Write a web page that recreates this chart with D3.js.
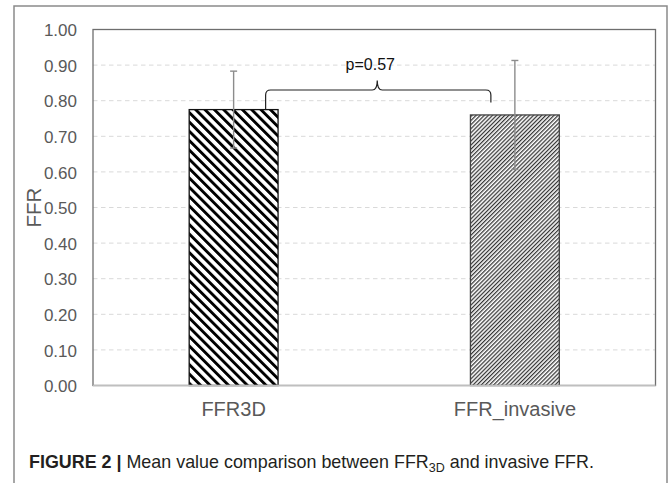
<!DOCTYPE html>
<html lang="en">
<head>
    <meta charset="UTF-8">
    <title>FFR bars</title>
    <script src="https://cdn.jsdelivr.net/npm/d3@7"></script>
    <style>
        body { margin: 0; background: #fff; }
        text { font-family: Arial, "Liberation Sans", Helvetica, sans-serif; }
    </style>
</head>
<body>

<svg width="669" height="483"></svg>

<script>

    // data
    var categories = ["FFR3D", "FFR_invasive"];
    var means = [0.775, 0.76];
    var sds = [0.108, 0.153];
    var yTicks = [0, 0.1, 0.2, 0.3, 0.4, 0.5, 0.6, 0.7, 0.8, 0.9, 1.0];
    var pLabel = "p=0.57";
    // bracket levels (FFR units): left leg end, bar, tip, right leg end
    var bracketLevels = [0.775, 0.83, 0.857, 0.795];

    var svg = d3.select("svg");
    var plotLeft = 93, plotTop = 29.5, plotRight = 655.5, plotBottom = 385.5;

    // outer frame of the figure
    svg.append("rect")
        .attr("x", 14).attr("y", 6)
        .attr("width", 653).attr("height", 500)
        .attr("fill", "none")
        .attr("stroke", "#8a8a8a")
        .attr("stroke-width", 1.5);

    var x = d3.scaleBand()
        .domain(categories)
        .range([plotLeft, plotRight])
        .paddingInner(0.684)
        .paddingOuter(0.342);

    var y = d3.scaleLinear()
        .domain([0, 1])
        .range([plotBottom, plotTop]);

    // patterns
    var defs = svg.append("defs");
    var p1 = defs.append("pattern")
        .attr("id", "hatchWide")
        .attr("patternUnits", "userSpaceOnUse")
        .attr("width", 6.6).attr("height", 6.6)
        .attr("patternTransform", "rotate(-45)");
    p1.append("rect").attr("width", 6.6).attr("height", 6.6).attr("fill", "#fff");
    p1.append("rect").attr("width", 2.9).attr("height", 6.6).attr("fill", "#000");

    var p2 = defs.append("pattern")
        .attr("id", "hatchFine")
        .attr("patternUnits", "userSpaceOnUse")
        .attr("width", 2.9).attr("height", 2.9)
        .attr("patternTransform", "rotate(45)");
    p2.append("rect").attr("width", 2.9).attr("height", 2.9).attr("fill", "#fff");
    p2.append("rect").attr("width", 1.25).attr("height", 2.9).attr("fill", "#333");

    // gridlines
    svg.append("g")
        .selectAll("line")
        .data(yTicks.filter(function (d) { return d > 0 && d < 1; }))
        .enter()
        .append("line")
        .attr("x1", plotLeft).attr("x2", plotRight)
        .attr("y1", function (d) { return y(d); })
        .attr("y2", function (d) { return y(d); })
        .attr("stroke", "#d9d9d9")
        .attr("stroke-width", 1)
        .attr("stroke-dasharray", "4.5,3.5");

    // y axis labels
    var yAxis = d3.axisLeft(y)
        .tickValues(yTicks)
        .tickFormat(d3.format(".2f"))
        .tickSize(0)
        .tickPadding(16);
    var ya = svg.append("g")
        .attr("transform", "translate(" + plotLeft + ",0)")
        .call(yAxis);
    ya.select(".domain").remove();
    ya.selectAll("text")
        .attr("fill", "#595959")
        .style("font-size", "17px")
        .attr("dy", "0.36em");

    // x axis labels
    var xAxis = d3.axisBottom(x).tickSize(0).tickPadding(16);
    var xa = svg.append("g")
        .attr("transform", "translate(0," + plotBottom + ")")
        .call(xAxis);
    xa.select(".domain").remove();
    xa.selectAll("text")
        .attr("fill", "#595959")
        .style("font-size", "20px")
        .attr("dy", "0.71em");

    // bars
    svg.append("g")
        .selectAll("rect")
        .data(categories)
        .enter()
        .append("rect")
        .attr("x", function (d) { return x(d); })
        .attr("y", function (d, i) { return y(means[i]); })
        .attr("width", x.bandwidth())
        .attr("height", function (d, i) { return y(0) - y(means[i]); })
        .attr("fill", function (d, i) { return i === 0 ? "url(#hatchWide)" : "url(#hatchFine)"; })
        .attr("stroke", function (d, i) { return i === 0 ? "#111" : "#444"; })
        .attr("stroke-width", 1.3);

    // plot border
    svg.append("rect")
        .attr("x", plotLeft).attr("y", plotTop)
        .attr("width", plotRight - plotLeft).attr("height", plotBottom - plotTop)
        .attr("fill", "none")
        .attr("stroke", "#6e6e6e")
        .attr("stroke-width", 1.3);
    svg.append("line")
        .attr("x1", plotLeft).attr("x2", plotRight)
        .attr("y1", plotBottom).attr("y2", plotBottom)
        .attr("stroke", "#bfbfbf")
        .attr("stroke-width", 1.5);

    // error bars
    var eb = svg.append("g")
        .attr("stroke", "#8c8c8c")
        .attr("stroke-width", 1.4);
    categories.forEach(function (c, i) {
        var cx = x(c) + x.bandwidth() / 2;
        var hi = y(means[i] + sds[i]), lo = y(means[i] - sds[i]);
        eb.append("line").attr("x1", cx).attr("x2", cx).attr("y1", hi).attr("y2", lo);
        eb.append("line").attr("x1", cx - 3.5).attr("x2", cx + 3.5).attr("y1", hi).attr("y2", hi);
        eb.append("line").attr("x1", cx - 3.5).attr("x2", cx + 3.5).attr("y1", lo).attr("y2", lo);
    });

    // significance bracket
    var xl = x(categories[0]) + x.bandwidth() * 0.86;
    var xr = x(categories[1]) + x.bandwidth() * 0.23;
    var xm = (xl + xr) / 2 - 1;
    var yl = y(bracketLevels[0]), yh = y(bracketLevels[1]),
        yp = y(bracketLevels[2]), yr = y(bracketLevels[3]);
    var r = 5;
    var path = d3.path();
    path.moveTo(xl, yl);
    path.lineTo(xl, yh + r);
    path.quadraticCurveTo(xl, yh, xl + r, yh);
    path.lineTo(xm - 5, yh);
    path.quadraticCurveTo(xm, yh, xm, yp);
    path.quadraticCurveTo(xm, yh, xm + 5, yh);
    path.lineTo(xr - r, yh);
    path.quadraticCurveTo(xr, yh, xr, yh + r);
    path.lineTo(xr, yr);
    svg.append("path")
        .attr("d", path.toString())
        .attr("fill", "none")
        .attr("stroke", "#222")
        .attr("stroke-width", 1.2);

    svg.append("text")
        .attr("x", xm - 7)
        .attr("y", y(0.885))
        .attr("text-anchor", "middle")
        .attr("fill", "#111")
        .style("font-size", "16px")
        .text(pLabel);

    // y title
    svg.append("text")
        .attr("transform", "translate(40.5," + y(0.5) + ") rotate(-90)")
        .attr("text-anchor", "middle")
        .attr("fill", "#595959")
        .style("font-size", "20.5px")
        .text("FFR");

    // caption
    var cap = svg.append("text")
        .attr("x", 29)
        .attr("y", 468)
        .attr("fill", "#231f20")
        .style("font-size", "17.9px");
    cap.append("tspan").attr("font-weight", "bold").text("FIGURE 2 | ");
    cap.append("tspan").text("Mean value comparison between FFR");
    cap.append("tspan").attr("dy", 3.5).style("font-size", "12.5px").text("3D");
    cap.append("tspan").attr("dy", -3.5).text(" and invasive FFR.");

</script>

</body>
</html>
